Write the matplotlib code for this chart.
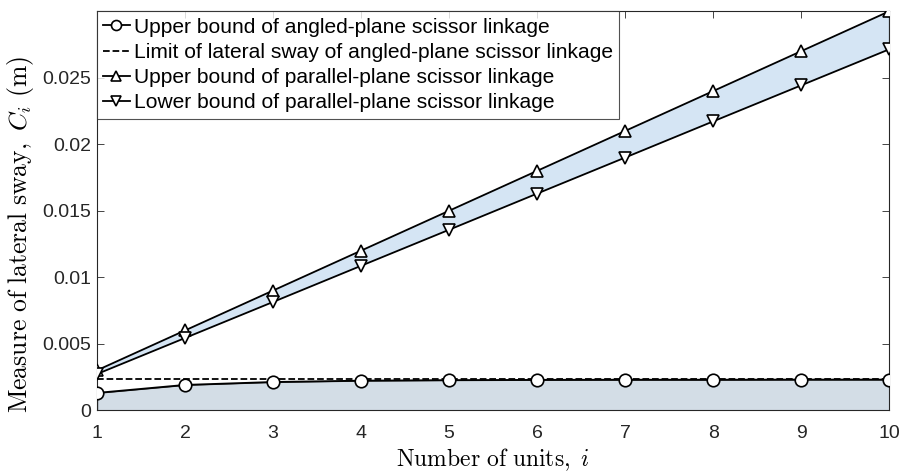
## Lateral sway of scissor linkages
import numpy as np
import matplotlib
matplotlib.use("Agg")
import matplotlib.pyplot as plt

## Data
units = np.arange(1, 11)
angledUpper = [0.00130, 0.00190, 0.00212, 0.00222, 0.00226,
               0.00228, 0.00229, 0.00229, 0.00230, 0.00230]
angledLimit = [0.00232] * 10
parallelUpper = [0.0030, 0.0060, 0.0090, 0.0120, 0.0150,
                 0.0180, 0.0210, 0.0240, 0.0270, 0.0300]
parallelLower = [0.00272, 0.00543, 0.00814, 0.01086, 0.01357,
                 0.01629, 0.01900, 0.02172, 0.02443, 0.02714]

labels = ["Upper bound of angled-plane scissor linkage",
          "Limit of lateral sway of angled-plane scissor linkage",
          "Upper bound of parallel-plane scissor linkage",
          "Lower bound of parallel-plane scissor linkage"]

## Plot
plt.rcParams['font.family'] = ['Liberation Sans', 'DejaVu Sans']
plt.rcParams['mathtext.fontset'] = 'cm'

fig = plt.figure(figsize=(8.99, 4.72), dpi=100)
ax = fig.add_axes([0.108, 0.131, 0.881, 0.845])

# Shaded regions
ax.fill_between(units, 0, angledUpper, facecolor='#d3dde6',
                edgecolor='#262626', linewidth=0.8, zorder=1)
ax.fill_between(units, parallelLower, parallelUpper, facecolor='#d5e5f4',
                edgecolor='none', zorder=1)
ax.plot([10, 10], [parallelLower[-1], parallelUpper[-1]], color='#262626',
        linewidth=0.8, zorder=1)

mk = dict(markersize=9, markerfacecolor='white', markeredgecolor='black',
          markeredgewidth=1.2, color='black', linewidth=1.3)
ax.plot(units, angledUpper, marker='o', label=labels[0], zorder=4, **mk)
ax.plot(units, angledLimit, '--', color='black', linewidth=1.3,
        label=labels[1], zorder=3)
ax.plot(units, parallelUpper, marker='^', label=labels[2], zorder=4, **mk)
ax.plot(units, parallelLower, marker='v', label=labels[3], zorder=4, **mk)

ax.set_xlim(1, 10)
ax.set_ylim(0, 0.03)
ax.set_xticks(units)
ax.set_yticks([0, 0.005, 0.01, 0.015, 0.02, 0.025])
ax.set_yticklabels(["0", "0.005", "0.01", "0.015", "0.02", "0.025"])
ax.tick_params(direction='in', top=True, right=True, labelsize=14,
               colors='#262626', labelcolor='#262626', length=5, width=0.6)
ax.tick_params(axis='x', pad=11)
ax.tick_params(axis='y', pad=4)
ax.set_axisbelow(True)
for s in ax.spines.values():
    s.set_color('#262626')
    s.set_linewidth(0.8)

# Axis labels (serif, LaTeX-like)
ax.set_xlabel(r"$\mathrm{Number\ of\ units,}\ i$", fontsize=17)
ax.xaxis.set_label_coords(0.5, -0.125)
ax.xaxis.label.set_va('center')
ax.set_ylabel(r"$\mathrm{Measure\ of\ lateral\ sway,}\ C_i\ \mathrm{(m)}$",
              fontsize=18.5)
ax.yaxis.set_label_coords(-0.097, 0.44)
ax.yaxis.label.set_va('center')

leg = ax.legend(loc='upper left', fontsize=15.1, frameon=True, fancybox=False,
                borderaxespad=0, handlelength=1.25, handletextpad=0.2,
                borderpad=0.3, labelspacing=0.3, markerscale=0.8)
leg.get_frame().set_edgecolor('#262626')
leg.get_frame().set_linewidth(0.8)

fig.savefig("out.png", dpi=100)
